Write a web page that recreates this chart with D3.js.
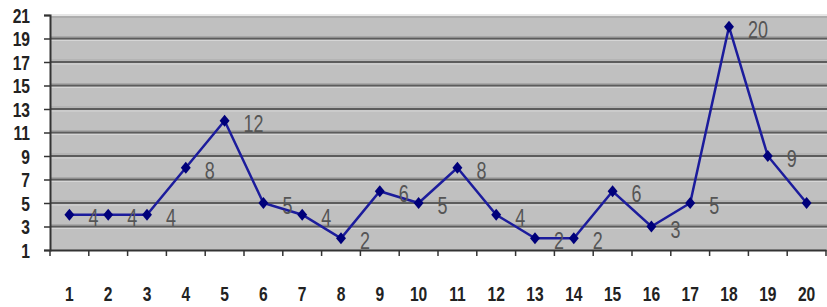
<!DOCTYPE html>
<html>
<head>
<meta charset="utf-8">
<script src="https://d3js.org/d3.v7.min.js"></script>
<style>
  body { margin: 0; background: #fff; }
  svg { display: block; }
  .tick-label { font-family: "Liberation Sans", Arial, sans-serif; font-weight: bold; fill: #222; }
  .val-label { font-family: "Liberation Sans", Arial, sans-serif; fill: #555; }
</style>
</head>
<body>
<script>
// data
let categories = d3.range(1, 21).map(String);
let values = [4, 4, 4, 8, 12, 5, 4, 2, 6, 5, 8, 4, 2, 2, 6, 3, 5, 20, 9, 5];
let yTicks = [1, 3, 5, 7, 9, 11, 13, 15, 17, 19, 21];

let width = 827;
let height = 307;
let plotLeft = 50, plotRight = 827, plotTop = 15, plotBottom = 250;
let narrow = 0.78; // squeeze glyphs to look like a narrow face

let svg = d3.select("body")
  .append("svg")
  .attr("width", width)
  .attr("height", height);

let x = d3.scaleBand()
  .domain(categories)
  .range([plotLeft, plotLeft + 20 * 38.8]);

let y = d3.scaleLinear()
  .domain([1, 21])
  .range([plotBottom, plotTop]);

// plot background
svg.append("rect")
  .attr("x", plotLeft)
  .attr("y", plotTop)
  .attr("width", plotRight - plotLeft)
  .attr("height", plotBottom - plotTop)
  .attr("fill", "#c0c0c0");

// gridlines - dark line with a light edge under it
let inner = yTicks.filter(d => d > 1 && d < 21);
let grid = svg.append("g");
grid.selectAll("line.darkup")
  .data(inner)
  .join("line")
  .attr("class", "darkup")
  .attr("x1", plotLeft).attr("x2", plotRight)
  .attr("y1", d => y(d) - 2).attr("y2", d => y(d) - 2)
  .attr("stroke", "#a8a8a8")
  .attr("stroke-width", 1);
grid.selectAll("line.dark")
  .data(inner)
  .join("line")
  .attr("class", "dark")
  .attr("x1", plotLeft).attr("x2", plotRight)
  .attr("y1", d => y(d)).attr("y2", d => y(d))
  .attr("stroke", "#5c5c5c")
  .attr("stroke-width", 2);
grid.selectAll("line.light")
  .data(inner)
  .join("line")
  .attr("class", "light")
  .attr("x1", plotLeft).attr("x2", plotRight)
  .attr("y1", d => y(d) + 2).attr("y2", d => y(d) + 2)
  .attr("stroke", "#d6d6d6")
  .attr("stroke-width", 1);

// top edge
svg.append("line")
  .attr("x1", plotLeft).attr("x2", plotRight)
  .attr("y1", y(21)).attr("y2", y(21))
  .attr("stroke", "#e6e6e6").attr("stroke-width", 2);
svg.append("line")
  .attr("x1", plotLeft).attr("x2", plotRight)
  .attr("y1", y(21) + 2).attr("y2", y(21) + 2)
  .attr("stroke", "#9a9a9a").attr("stroke-width", 1);

// y axis
let yAxis = d3.axisLeft(y)
  .tickValues(yTicks)
  .tickSize(6)
  .tickPadding(20 / narrow - 6);
let gy = svg.append("g")
  .attr("transform", "translate(" + plotLeft + ",0)")
  .call(yAxis);
gy.select(".domain").attr("stroke", "#333").attr("stroke-width", 2);
gy.selectAll(".tick line").attr("stroke", "#333").attr("stroke-width", 1.5);
gy.selectAll(".tick text")
  .attr("class", "tick-label")
  .attr("font-size", 20)
  .attr("dy", "0.36em")
  .attr("transform", "scale(" + narrow + ",1)");

// x axis, ticks between categories
let xAxis = d3.axisBottom(x).tickSize(0).tickPadding(37);
let gx = svg.append("g")
  .attr("transform", "translate(0," + plotBottom + ")")
  .call(xAxis);
gx.select(".domain").attr("stroke", "#333").attr("stroke-width", 2);
gx.selectAll(".tick text")
  .attr("class", "tick-label")
  .attr("font-size", 20)
  .attr("transform", "scale(" + narrow + ",1)");
gx.selectAll("line.sep")
  .data(categories)
  .join("line")
  .attr("class", "sep")
  .attr("x1", d => x(d)).attr("x2", d => x(d))
  .attr("y1", 0).attr("y2", 6)
  .attr("stroke", "#333").attr("stroke-width", 1.5);
gx.append("line")
  .attr("x1", x.range()[1]).attr("x2", x.range()[1])
  .attr("y1", 0).attr("y2", 6)
  .attr("stroke", "#333").attr("stroke-width", 1.5);

// series line
let cx = (d, i) => x(categories[i]) + x.bandwidth() / 2;
let line = d3.line()
  .x(cx)
  .y(d => y(d));

svg.append("path")
  .datum(values)
  .attr("d", line)
  .attr("fill", "none")
  .attr("stroke", "#1c1c9c")
  .attr("stroke-width", 2.5);

// diamond markers
svg.selectAll("path.marker")
  .data(values)
  .join("path")
  .attr("class", "marker")
  .attr("d", d3.symbol().type(d3.symbolDiamond2).size(70))
  .attr("transform", (d, i) => "translate(" + cx(d, i) + "," + y(d) + ") scale(0.95,1.15)")
  .attr("fill", "#00007a");

// value labels to the right of each point (the one past the right edge is not shown)
let labelled = values.map((v, i) => ({ v: v, i: i })).filter(d => cx(d.v, d.i) + 30 < width);
svg.selectAll("text.val")
  .data(labelled)
  .join("text")
  .attr("class", "val-label")
  .attr("transform", d => "translate(" + (cx(d.v, d.i) + 19) + "," + (y(d.v) + 11) + ") scale(" + narrow + ",1)")
  .attr("font-size", 23)
  .text(d => d.v);
</script>
</body>
</html>
